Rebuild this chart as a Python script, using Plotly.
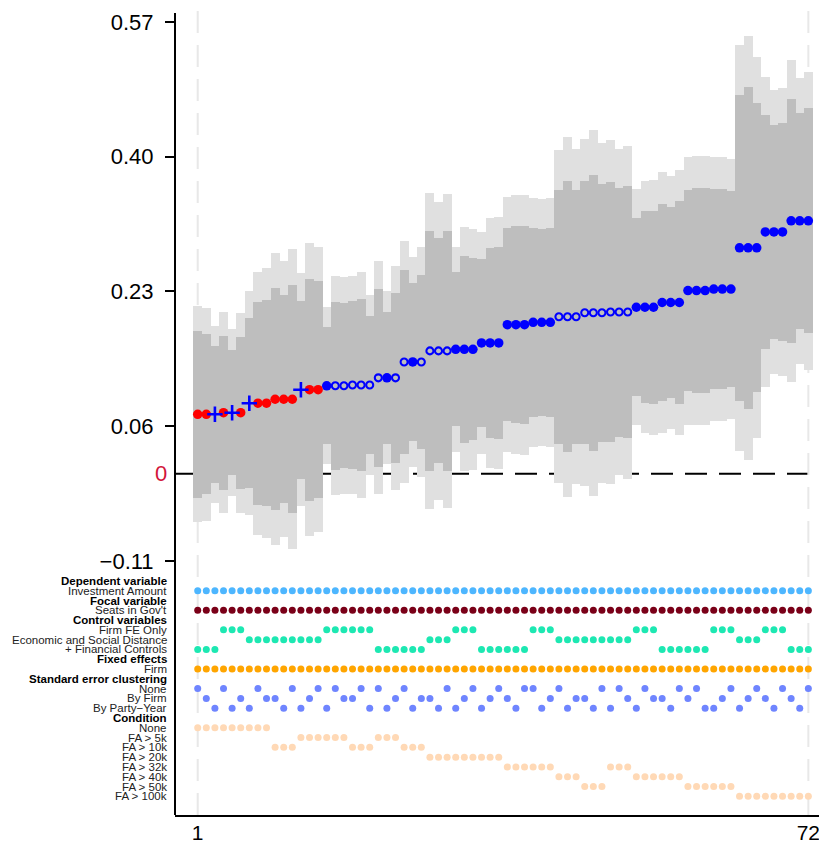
import plotly.graph_objects as go

# ---------------- data ----------------
spec_ids = list(range(1, 73))

estimate = [0.075, 0.075, 0.075, 0.077, 0.077, 0.077, 0.089, 0.089, 0.089,
            0.094, 0.094, 0.094, 0.106, 0.106, 0.106, 0.111, 0.111, 0.111,
            0.112, 0.112, 0.112, 0.121, 0.121, 0.121, 0.141, 0.141, 0.141,
            0.155, 0.155, 0.155, 0.157, 0.157, 0.157, 0.165, 0.165, 0.165,
            0.188, 0.188, 0.188, 0.191, 0.191, 0.191, 0.198, 0.198, 0.198,
            0.203, 0.203, 0.203, 0.204, 0.204, 0.204, 0.210, 0.210, 0.210,
            0.216, 0.216, 0.216, 0.231, 0.231, 0.231, 0.233, 0.233, 0.233,
            0.285, 0.285, 0.285, 0.305, 0.305, 0.305, 0.319, 0.319, 0.319]

# half-width of the inner (dark) interval
half_inner = [0.105, 0.101, 0.086, 0.097, 0.079, 0.096, 0.107, 0.128, 0.130,
              0.140, 0.131, 0.144, 0.112, 0.140, 0.137, 0.074, 0.106, 0.104,
              0.106, 0.109, 0.087, 0.112, 0.083, 0.107, 0.116, 0.100, 0.110,
              0.151, 0.142, 0.151, 0.097, 0.118, 0.115, 0.106, 0.120, 0.121,
              0.122, 0.124, 0.125, 0.119, 0.118, 0.119, 0.160, 0.171, 0.160,
              0.166, 0.174, 0.163, 0.164, 0.157, 0.159, 0.112, 0.121, 0.122,
              0.124, 0.121, 0.128, 0.127, 0.129, 0.129, 0.126, 0.126, 0.124,
              0.193, 0.203, 0.182, 0.148, 0.135, 0.138, 0.154, 0.136, 0.142]

# half-width of the outer (light) interval
half_outer = [0.136, 0.134, 0.112, 0.127, 0.105, 0.126, 0.141, 0.166, 0.170,
              0.184, 0.174, 0.189, 0.147, 0.185, 0.180, 0.099, 0.138, 0.137,
              0.138, 0.143, 0.114, 0.147, 0.109, 0.141, 0.153, 0.133, 0.145,
              0.199, 0.188, 0.198, 0.129, 0.154, 0.152, 0.140, 0.158, 0.159,
              0.161, 0.163, 0.164, 0.157, 0.156, 0.157, 0.210, 0.227, 0.211,
              0.219, 0.231, 0.214, 0.217, 0.206, 0.210, 0.149, 0.159, 0.161,
              0.164, 0.159, 0.167, 0.169, 0.170, 0.170, 0.166, 0.166, 0.164,
              0.256, 0.267, 0.240, 0.195, 0.179, 0.182, 0.203, 0.180, 0.188]

# R = red filled, P = blue plus, B = blue filled, O = blue open circle
marker_kind = ["R", "R", "P", "R", "P", "R", "P", "R", "R", "R",
               "R", "R", "P", "R", "R", "B", "O", "O", "O", "O",
               "O", "O", "B", "O", "O", "B", "O", "O", "O", "O",
               "B", "B", "B", "B", "B", "B", "B", "B", "B", "B",
               "B", "B", "O", "O", "O", "O", "O", "O", "O", "O",
               "O", "B", "B", "B", "B", "B", "B", "B", "B", "B",
               "B", "B", "B", "B", "B", "B", "B", "B", "B", "B",
               "B", "B"]

control_spec = ["fin", "fin", "fin", "fe", "fe", "fe", "esd", "esd", "esd", "esd",
                "esd", "esd", "esd", "esd", "esd", "fe", "fe", "fe", "fe", "fe",
                "fe", "fin", "fin", "fin", "fin", "fin", "fin", "esd", "esd", "esd",
                "fe", "fe", "fe", "fin", "fin", "fin", "fin", "fin", "fin", "fe",
                "fe", "fe", "esd", "esd", "esd", "esd", "esd", "esd", "esd", "esd",
                "esd", "fe", "fe", "fe", "fin", "fin", "fin", "fin", "fin", "fin",
                "fe", "fe", "fe", "esd", "esd", "esd", "fe", "fe", "fe", "fin",
                "fin", "fin"]

cluster_spec = ["N", "F", "P", "N", "P", "F", "P", "N", "F", "F",
                "P", "N", "P", "F", "N", "P", "N", "F", "F", "N",
                "P", "N", "P", "F", "N", "P", "F", "F", "P", "N",
                "P", "F", "N", "P", "F", "N", "F", "P", "N", "N",
                "P", "F", "N", "P", "F", "F", "P", "N", "P", "N",
                "F", "P", "N", "F", "F", "P", "N", "F", "N", "P",
                "P", "F", "N", "P", "F", "N", "F", "P", "N", "F",
                "P", "N"]

condition_spec = ["none"] * 9 + ["10k"] * 3 + ["5k"] * 6 + ["10k"] * 3 + ["5k"] * 3 + \
                 ["10k"] * 3 + ["20k"] * 9 + ["32k"] * 6 + ["40k"] * 3 + ["50k"] * 3 + \
                 ["32k"] * 3 + ["40k"] * 6 + ["50k"] * 6 + ["100k"] * 9

row_labels = ["Dependent variable", "Investment Amount", "Focal variable", "Seats in Gov't",
              "Control variables", "Firm FE Only", "Economic and Social Distance",
              "+ Financial Controls", "Fixed effects", "Firm", "Standard error clustering",
              "None", "By Firm", "By Party\u2212Year", "Condition", "None", "FA > 5k",
              "FA > 10k", "FA > 20k", "FA > 32k", "FA > 40k", "FA > 50k", "FA > 100k"]
row_bold = [True, False, True, False, True, False, False, False, True, False, True,
            False, False, False, True, False, False, False, False, False, False, False, False]

y_ticks = [0.57, 0.40, 0.23, 0.06, -0.11]
y_ticktext = ["0.57", "0.40", "0.23", "0.06", "\u22120.11"]
x_ticks = [1, 72]
x_ticktext = ["1", "72"]

# ---------------- styling ----------------
FONT = "Liberation Sans, Arial, Helvetica, sans-serif"
ROW_TOP = -0.1351
ROW_STEP = 0.012346
row_y = [ROW_TOP - k * ROW_STEP for k in range(len(row_labels))]

fig = go.Figure()

lo_out = [e - h for e, h in zip(estimate, half_outer)]
lo_in = [e - h for e, h in zip(estimate, half_inner)]
fig.add_trace(go.Bar(x=spec_ids, y=[2 * h for h in half_outer], base=lo_out, width=1.03,
                     marker=dict(color="#E0E0E0", line=dict(width=0)), hoverinfo="skip",
                     showlegend=False))
fig.add_trace(go.Bar(x=spec_ids, y=[2 * h for h in half_inner], base=lo_in, width=1.03,
                     marker=dict(color="#BEBEBE", line=dict(width=0)), hoverinfo="skip",
                     showlegend=False))

marker_styles = {
    "R": dict(symbol="circle", color="#FF0000", size=9.5, line=dict(width=0)),
    "B": dict(symbol="circle", color="#0000FF", size=9.5, line=dict(width=0)),
    "O": dict(symbol="circle-open", color="#0000FF", size=7, line=dict(width=2.1, color="#0000FF")),
    "P": dict(symbol="cross-thin-open", color="#0000FF", size=11, line=dict(width=2.6, color="#0000FF")),
}
for kind, style in marker_styles.items():
    xs = [s for s, k in zip(spec_ids, marker_kind) if k == kind]
    ys = [e for e, k in zip(estimate, marker_kind) if k == kind]
    fig.add_trace(go.Scatter(x=xs, y=ys, mode="markers", marker=style,
                             hoverinfo="skip", showlegend=False))

# indicator rows
def add_row(row_index, xs, color):
    fig.add_trace(go.Scatter(x=xs, y=[row_y[row_index]] * len(xs), mode="markers",
                             marker=dict(symbol="circle", size=7, color=color, line=dict(width=0)),
                             hoverinfo="skip", showlegend=False))

add_row(1, spec_ids, "#4DB6FF")
add_row(3, spec_ids, "#7A0018")
for idx, code in [(5, "fe"), (6, "esd"), (7, "fin")]:
    add_row(idx, [s for s, c in zip(spec_ids, control_spec) if c == code], "#1DE8B2")
add_row(9, spec_ids, "#FFA500")
for idx, code in [(11, "N"), (12, "F"), (13, "P")]:
    add_row(idx, [s for s, c in zip(spec_ids, cluster_spec) if c == code], "#6F85FF")
for idx, code in [(15, "none"), (16, "5k"), (17, "10k"), (18, "20k"), (19, "32k"),
                  (20, "40k"), (21, "50k"), (22, "100k")]:
    add_row(idx, [s for s, c in zip(spec_ids, condition_spec) if c == code], "#FFD9B6")

annotations = []
for k, (lab, b) in enumerate(zip(row_labels, row_bold)):
    annotations.append(dict(x=0, xref="paper", y=row_y[k], yref="y", xanchor="right",
                            yanchor="middle", xshift=-6, showarrow=False,
                            text=f"<b>{lab}</b>" if b else lab,
                            font=dict(family=FONT, size=11.5, color="#000000" if b else "#222222")))
annotations.append(dict(x=0, xref="paper", y=0, yref="y", xanchor="right", yanchor="middle",
                        xshift=-6, showarrow=False, text="0",
                        font=dict(family=FONT, size=22, color="#D2143A")))

shapes = [
    dict(type="line", xref="paper", x0=0, x1=1, yref="y", y0=0, y1=0, layer="below",
         line=dict(color="#000000", width=2, dash="22px,12px")),
    dict(type="line", xref="x", x0=1, x1=1, yref="paper", y0=0, y1=1, layer="below",
         line=dict(color="#E8E8E8", width=2, dash="22px,12px")),
    dict(type="line", xref="x", x0=72, x1=72, yref="paper", y0=0, y1=1, layer="below",
         line=dict(color="#E8E8E8", width=2, dash="22px,12px")),
    dict(type="line", xref="paper", x0=0, x1=0, yref="paper", y0=0, y1=0.9938, layer="above",
         line=dict(color="#000000", width=2)),
]

# the page places the figure 8px from the top-left corner
fig.update_layout(
    width=819, height=837, autosize=False,
    margin=dict(l=167, r=0, t=0, b=30, pad=0, autoexpand=False),
    plot_bgcolor="white", paper_bgcolor="white",
    barmode="overlay", bargap=0, hovermode=False,
    showlegend=False,
    font=dict(family=FONT, color="#000000"),
    annotations=annotations, shapes=shapes,
    xaxis=dict(range=[-1.64, 74.17], tickvals=x_ticks, ticktext=x_ticktext, automargin=False,
               showgrid=False, zeroline=False, showline=True, linecolor="#000000",
               linewidth=2, ticks="", ticklabelstandoff=-2,
               tickfont=dict(family=FONT, size=21, color="#000000")),
    yaxis=dict(range=[-0.4303, 0.5874], tickvals=y_ticks, ticktext=y_ticktext, automargin=False,
               showgrid=False, zeroline=False, showline=False, ticks="outside",
               ticklen=9, tickwidth=1.5, tickcolor="#000000", ticklabelstandoff=7,
               tickfont=dict(family=FONT, size=22, color="#000000")),
)

fig.write_html("out.html")
